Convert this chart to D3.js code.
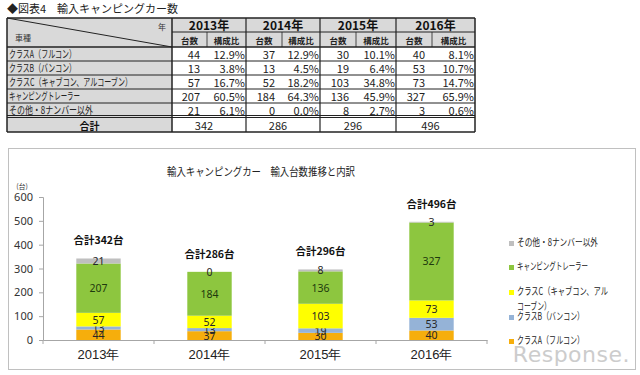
<!DOCTYPE html>
<html><head><meta charset="utf-8">
<script src="https://cdn.jsdelivr.net/npm/d3@7/dist/d3.min.js"></script>
<style>
html,body{margin:0;padding:0;background:#fff;}
svg{display:block;font-family:"Noto Sans CJK JP","Noto Sans",sans-serif;}
</style></head><body>
<svg id="c" width="640" height="375"></svg>
<script>
const years = ["2013年","2014年","2015年","2016年"];
const categories = ["クラスA（フルコン）","クラスB（バンコン）","クラスC（キャブコン、アルコーブン）","キャンピングトレーラー","その他・8ナンバー以外"];
const legendLabels = [["クラスA（フルコン）"],["クラスB（バンコン）"],["クラスC（キャブコン、アル","コーブン）"],["キャンピングトレーラー"],["その他・8ナンバー以外"]];
const classA = [44,37,30,40];
const classB = [13,13,19,53];
const classC = [57,52,103,73];
const trailer = [207,184,136,327];
const other = [21,0,8,3];
const shareA = ["12.9%","12.9%","10.1%","8.1%"];
const shareB = ["3.8%","4.5%","6.4%","10.7%"];
const shareC = ["16.7%","18.2%","34.8%","14.7%"];
const shareT = ["60.5%","64.3%","45.9%","65.9%"];
const shareO = ["6.1%","0.0%","2.7%","0.6%"];
const totals = [342,286,296,496];
const yTicks = [0,100,200,300,400,500,600];
const colors = ["#f6ae0c","#95b3d7","#ffff00","#8dc63f","#bfbfbf"];

const series = [classA,classB,classC,trailer,other];
const shares = [shareA,shareB,shareC,shareT,shareO];
const svg = d3.select("#c");

svg.append("text").attr("x",7).attr("y",13).attr("font-size",11).attr("fill","#222")
  .text("◆図表4　輸入キャンピングカー数");

const T = svg.append("g");
const colX = [7,172,246,320,396,475];
const subSplit = [207,282,356,432];
const rowY = [18,32,47,61,75,89,103,117,132];
const labelW = [67,67,123,71,84];
T.append("rect").attr("x",colX[0]).attr("y",rowY[0]).attr("width",colX[1]-colX[0]).attr("height",rowY[7]-rowY[0]).attr("fill","#d9d9d9");
T.append("rect").attr("x",colX[1]).attr("y",rowY[0]).attr("width",colX[5]-colX[1]).attr("height",rowY[2]-rowY[0]).attr("fill","#d9d9d9");
T.append("rect").attr("x",colX[0]).attr("y",rowY[7]).attr("width",colX[1]-colX[0]).attr("height",rowY[8]-rowY[7]).attr("fill","#d9d9d9");
const line=(x1,y1,x2,y2,w)=>T.append("line").attr("x1",x1).attr("y1",y1).attr("x2",x2).attr("y2",y2).attr("stroke","#222").attr("stroke-width",w||1);
line(colX[0],rowY[0],colX[5],rowY[0],1.5);
line(colX[1],rowY[1],colX[5],rowY[1],1);
for(let i=2;i<=6;i++) line(colX[0],rowY[i],colX[5],rowY[i],i===2?1.5:1);
line(colX[0],rowY[7]-1.5,colX[5],rowY[7]-1.5,1);
line(colX[0],rowY[7]+0.5,colX[5],rowY[7]+0.5,1);
line(colX[0],rowY[8],colX[5],rowY[8],1.5);
colX.forEach((x,i)=>line(x,rowY[0],x,rowY[8],(i===0||i===5||i===1)?1.5:1.2));
subSplit.forEach(x=>line(x,rowY[1],x,rowY[2],0.8));
line(colX[0],rowY[0],colX[1],rowY[2],1);
T.append("text").attr("x",158).attr("y",30).attr("font-size",8).attr("fill","#333").text("年");
T.append("text").attr("x",15).attr("y",41).attr("font-size",8).attr("fill","#333").text("車種");
years.forEach((yr,j)=>{
  const cx=(colX[j+1]+colX[j+2])/2;
  T.append("text").attr("x",cx).attr("y",rowY[1]-2.5).attr("text-anchor","middle").attr("font-size",12).attr("font-weight","bold").attr("fill","#111").text(yr);
  T.append("text").attr("x",(colX[j+1]+subSplit[j])/2).attr("y",rowY[2]-3.5).attr("text-anchor","middle").attr("font-size",8.5).attr("font-weight","bold").attr("fill","#222").text("台数");
  T.append("text").attr("x",(subSplit[j]+colX[j+2])/2).attr("y",rowY[2]-3.5).attr("text-anchor","middle").attr("font-size",8.5).attr("font-weight","bold").attr("fill","#222").text("構成比");
});
categories.forEach((cat,i)=>{
  const yb=rowY[i+3]-3;
  T.append("text").attr("x",colX[0]+2).attr("y",yb).attr("font-size",10.5).attr("fill","#222")
    .attr("textLength",labelW[i]).attr("lengthAdjust","spacingAndGlyphs").text(cat);
  years.forEach((yr,j)=>{
    T.append("text").attr("x",subSplit[j]-7).attr("y",yb+0.5).attr("text-anchor","end").attr("font-size",11).attr("fill","#222").text(series[i][j]);
    T.append("text").attr("x",colX[j+2]-1).attr("y",yb+0.5).attr("text-anchor","end").attr("font-size",11).attr("fill","#222").text(shares[i][j]);
  });
});
T.append("text").attr("x",(colX[0]+colX[1])/2).attr("y",rowY[8]-2.5).attr("text-anchor","middle").attr("font-size",10).attr("font-weight","bold").attr("fill","#111").text("合計");
totals.forEach((t,j)=>{
  T.append("text").attr("x",(colX[j+1]+colX[j+2])/2-5).attr("y",rowY[8]-2.5).attr("text-anchor","middle").attr("font-size",11).attr("fill","#222").text(t);
});

svg.append("rect").attr("x",8.5).attr("y",148.5).attr("width",627).attr("height",221).attr("fill","#fff").attr("stroke","#c0c0c0");
svg.append("text").attr("x",167).attr("y",176).attr("font-size",11).attr("fill","#222")
  .attr("textLength",188).attr("lengthAdjust","spacingAndGlyphs")
  .text("輸入キャンピングカー　輸入台数推移と内訳");

const x = d3.scaleBand().domain(years).range([43,487]).paddingInner(0.6).paddingOuter(0.3);
const y = d3.scaleLinear().domain([0,600]).range([340,197]);

const ya = svg.append("g").attr("transform","translate(43,0)")
  .call(d3.axisLeft(y).tickValues(yTicks).tickSize(4).tickPadding(6));
ya.select(".domain").attr("stroke","#a6a6a6");
ya.selectAll(".tick line").attr("stroke","#a6a6a6");
ya.selectAll(".tick text").attr("font-size",11).attr("fill","#333").attr("font-family","'Noto Sans','DejaVu Sans',sans-serif");
svg.append("text").attr("x",22).attr("y",189).attr("text-anchor","middle").attr("font-size",7).attr("fill","#333").text("(台)");

const xa = svg.append("g").attr("transform","translate(0,340)")
  .call(d3.axisBottom(x).tickSize(0).tickPadding(10));
xa.select(".domain").attr("stroke","#a6a6a6");
xa.selectAll(".tick text").attr("font-size",13).attr("fill","#222");
const step = x.step();
d3.range(years.length+1).forEach(i=>{
  const bx = x.range()[0] + i*step;
  svg.append("line").attr("x1",bx).attr("x2",bx).attr("y1",340).attr("y2",344).attr("stroke","#a6a6a6");
});

const table = years.map((yr,j)=>{const o={year:yr}; categories.forEach((c,i)=>o[c]=series[i][j]); return o;});
const stacked = d3.stack().keys(categories)(table);
stacked.forEach((layer,i)=>{
  const g = svg.append("g");
  g.selectAll("rect").data(layer).join("rect")
    .attr("x",d=>x(d.data.year)).attr("width",x.bandwidth())
    .attr("y",d=>y(d[1])).attr("height",d=>y(d[0])-y(d[1]))
    .attr("fill",colors[i]);
  g.selectAll("text").data(layer).join("text")
    .attr("x",d=>x(d.data.year)+x.bandwidth()/2)
    .attr("y",d=>(y(d[0])+y(d[1]))/2+4)
    .attr("text-anchor","middle").attr("font-size",10.5)
    .attr("fill",i===3?"#1e3a0e":"#262626")
    .attr("font-family","'Noto Sans','DejaVu Sans',sans-serif")
    .text(d=>d[1]-d[0]);
});
svg.selectAll("text.tot").data(totals).join("text").attr("class","tot")
  .attr("x",(d,j)=>x(years[j])+x.bandwidth()/2)
  .attr("y",d=>y(d)-14)
  .attr("text-anchor","middle").attr("font-size",10.5).attr("font-weight","bold").attr("fill","#111")
  .text(d=>"合計"+d+"台");

const legY = [344,320,295,270,246];
const legW = [[67],[67],[91,34],[71],[81]];
categories.forEach((c,i)=>{
  svg.append("rect").attr("x",509).attr("y",legY[i]-5).attr("width",5).attr("height",5).attr("fill",colors[i]);
  legendLabels[i].forEach((t,k)=>{
    svg.append("text").attr("x",517).attr("y",legY[i]+k*15).attr("font-size",10).attr("fill","#222")
      .attr("textLength",legW[i][k]).attr("lengthAdjust","spacingAndGlyphs").text(t);
  });
});

svg.append("text").attr("x",630).attr("y",362).attr("text-anchor","end").attr("font-size",22)
  .attr("font-family","'DejaVu Sans',sans-serif").attr("fill","#c4c4c4").attr("opacity",0.85)
  .attr("letter-spacing",0.5).text("Response.");
</script>
</body></html>
